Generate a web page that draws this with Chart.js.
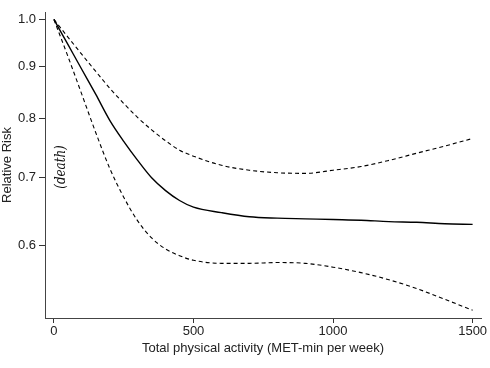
<!DOCTYPE html>
<html>
<head>
<meta charset="utf-8">
<script src="https://cdn.jsdelivr.net/npm/chart.js@4/dist/chart.umd.min.js"></script>
<style>
  html, body { margin: 0; padding: 0; background: #fff; }
  #wrap { width: 490px; height: 368px; position: relative; }
</style>
</head>
<body>
<div id="wrap"><canvas id="c" width="490" height="368"></canvas></div>
<script>
// MET-min per week
const activity = [0, 50, 100, 150, 200, 250, 300, 350, 400, 450, 500, 600, 700, 800, 900, 1000, 1100, 1200, 1300, 1400, 1500];
// relative risk of death (central estimate)
const rrEstimate = [1.0, 0.945, 0.893, 0.844, 0.796, 0.759, 0.727, 0.699, 0.679, 0.664, 0.654, 0.646, 0.640, 0.638, 0.637, 0.636, 0.635, 0.633, 0.632, 0.630, 0.629];
// upper 95% confidence limit
const rrUpper = [1.0, 0.961, 0.924, 0.889, 0.856, 0.827, 0.801, 0.779, 0.760, 0.744, 0.734, 0.719, 0.711, 0.707, 0.706, 0.711, 0.717, 0.727, 0.739, 0.751, 0.764];
// lower 95% confidence limit
const rrLower = [1.0, 0.920, 0.844, 0.774, 0.714, 0.669, 0.634, 0.610, 0.595, 0.586, 0.580, 0.576, 0.576, 0.577, 0.576, 0.571, 0.564, 0.555, 0.544, 0.531, 0.518];

const xTicks = [0, 500, 1000, 1500];
const yTicks = [0.6, 0.7, 0.8, 0.9, 1.0];

const toPts = (ys) => activity.map((x, i) => ({ x: x, y: ys[i] }));

const FONT = '"Liberation Sans", Arial, Helvetica, sans-serif';

const deathLabel = {
  id: 'deathLabel',
  afterDraw(chart) {
    const ctx = chart.ctx;
    ctx.save();
    ctx.translate(61, 167);
    ctx.rotate(-Math.PI / 2);
    ctx.scale(0.85, 1);
    ctx.font = 'italic 14px "DejaVu Serif", "Liberation Serif", serif';
    ctx.fillStyle = '#111';
    ctx.textAlign = 'center';
    ctx.textBaseline = 'middle';
    ctx.fillText('(death)', 0, 0);
    ctx.restore();
  }
};

const lineBase = {
  borderColor: '#000',
  pointRadius: 0,
  fill: false,
  cubicInterpolationMode: 'monotone'
};

new Chart(document.getElementById('c'), {
  type: 'line',
  data: {
    datasets: [
      Object.assign({}, lineBase, { label: 'Upper', data: toPts(rrUpper), borderWidth: 1.1, borderDash: [4, 3] }),
      Object.assign({}, lineBase, { label: 'Estimate', data: toPts(rrEstimate), borderWidth: 1.4 }),
      Object.assign({}, lineBase, { label: 'Lower', data: toPts(rrLower), borderWidth: 1.1, borderDash: [4, 3] })
    ]
  },
  options: {
    responsive: false,
    animation: false,
    layout: { padding: { top: 12, right: 9, left: 0, bottom: 0 } },
    plugins: { legend: { display: false }, tooltip: { enabled: false } },
    scales: {
      x: {
        type: 'linear',
        min: -32,
        max: 1530,
        afterBuildTicks: (s) => { s.ticks = xTicks.map(v => ({ value: v })); },
        afterFit: (s) => { s.height = 50; },
        grid: { drawOnChartArea: false, drawTicks: true, tickLength: 5, color: '#333' },
        border: { display: true, color: '#444', width: 1 },
        ticks: { color: '#222', font: { family: FONT, size: 13 }, padding: 1, maxRotation: 0,
                 callback: (v) => String(v) },
        title: { display: true, text: 'Total physical activity (MET-min per week)', color: '#222',
                 font: { family: FONT, size: 13 }, padding: { top: 0, bottom: 12 } }
      },
      y: {
        type: 'logarithmic',
        min: 0.509,
        max: 1.017,
        afterBuildTicks: (s) => { s.ticks = yTicks.map(v => ({ value: v })); },
        afterFit: (s) => { s.width = 45; },
        grid: { drawOnChartArea: false, drawTicks: true, tickLength: 6, color: '#333' },
        border: { display: true, color: '#444', width: 1 },
        ticks: { color: '#222', font: { family: FONT, size: 13 }, padding: 3,
                 callback: (v) => Number(v).toFixed(1) },
        title: { display: true, text: 'Relative Risk', color: '#222',
                 font: { family: FONT, size: 13 }, padding: { top: 0, bottom: 0 } }
      }
    }
  },
  plugins: [deathLabel]
});
</script>
</body>
</html>
